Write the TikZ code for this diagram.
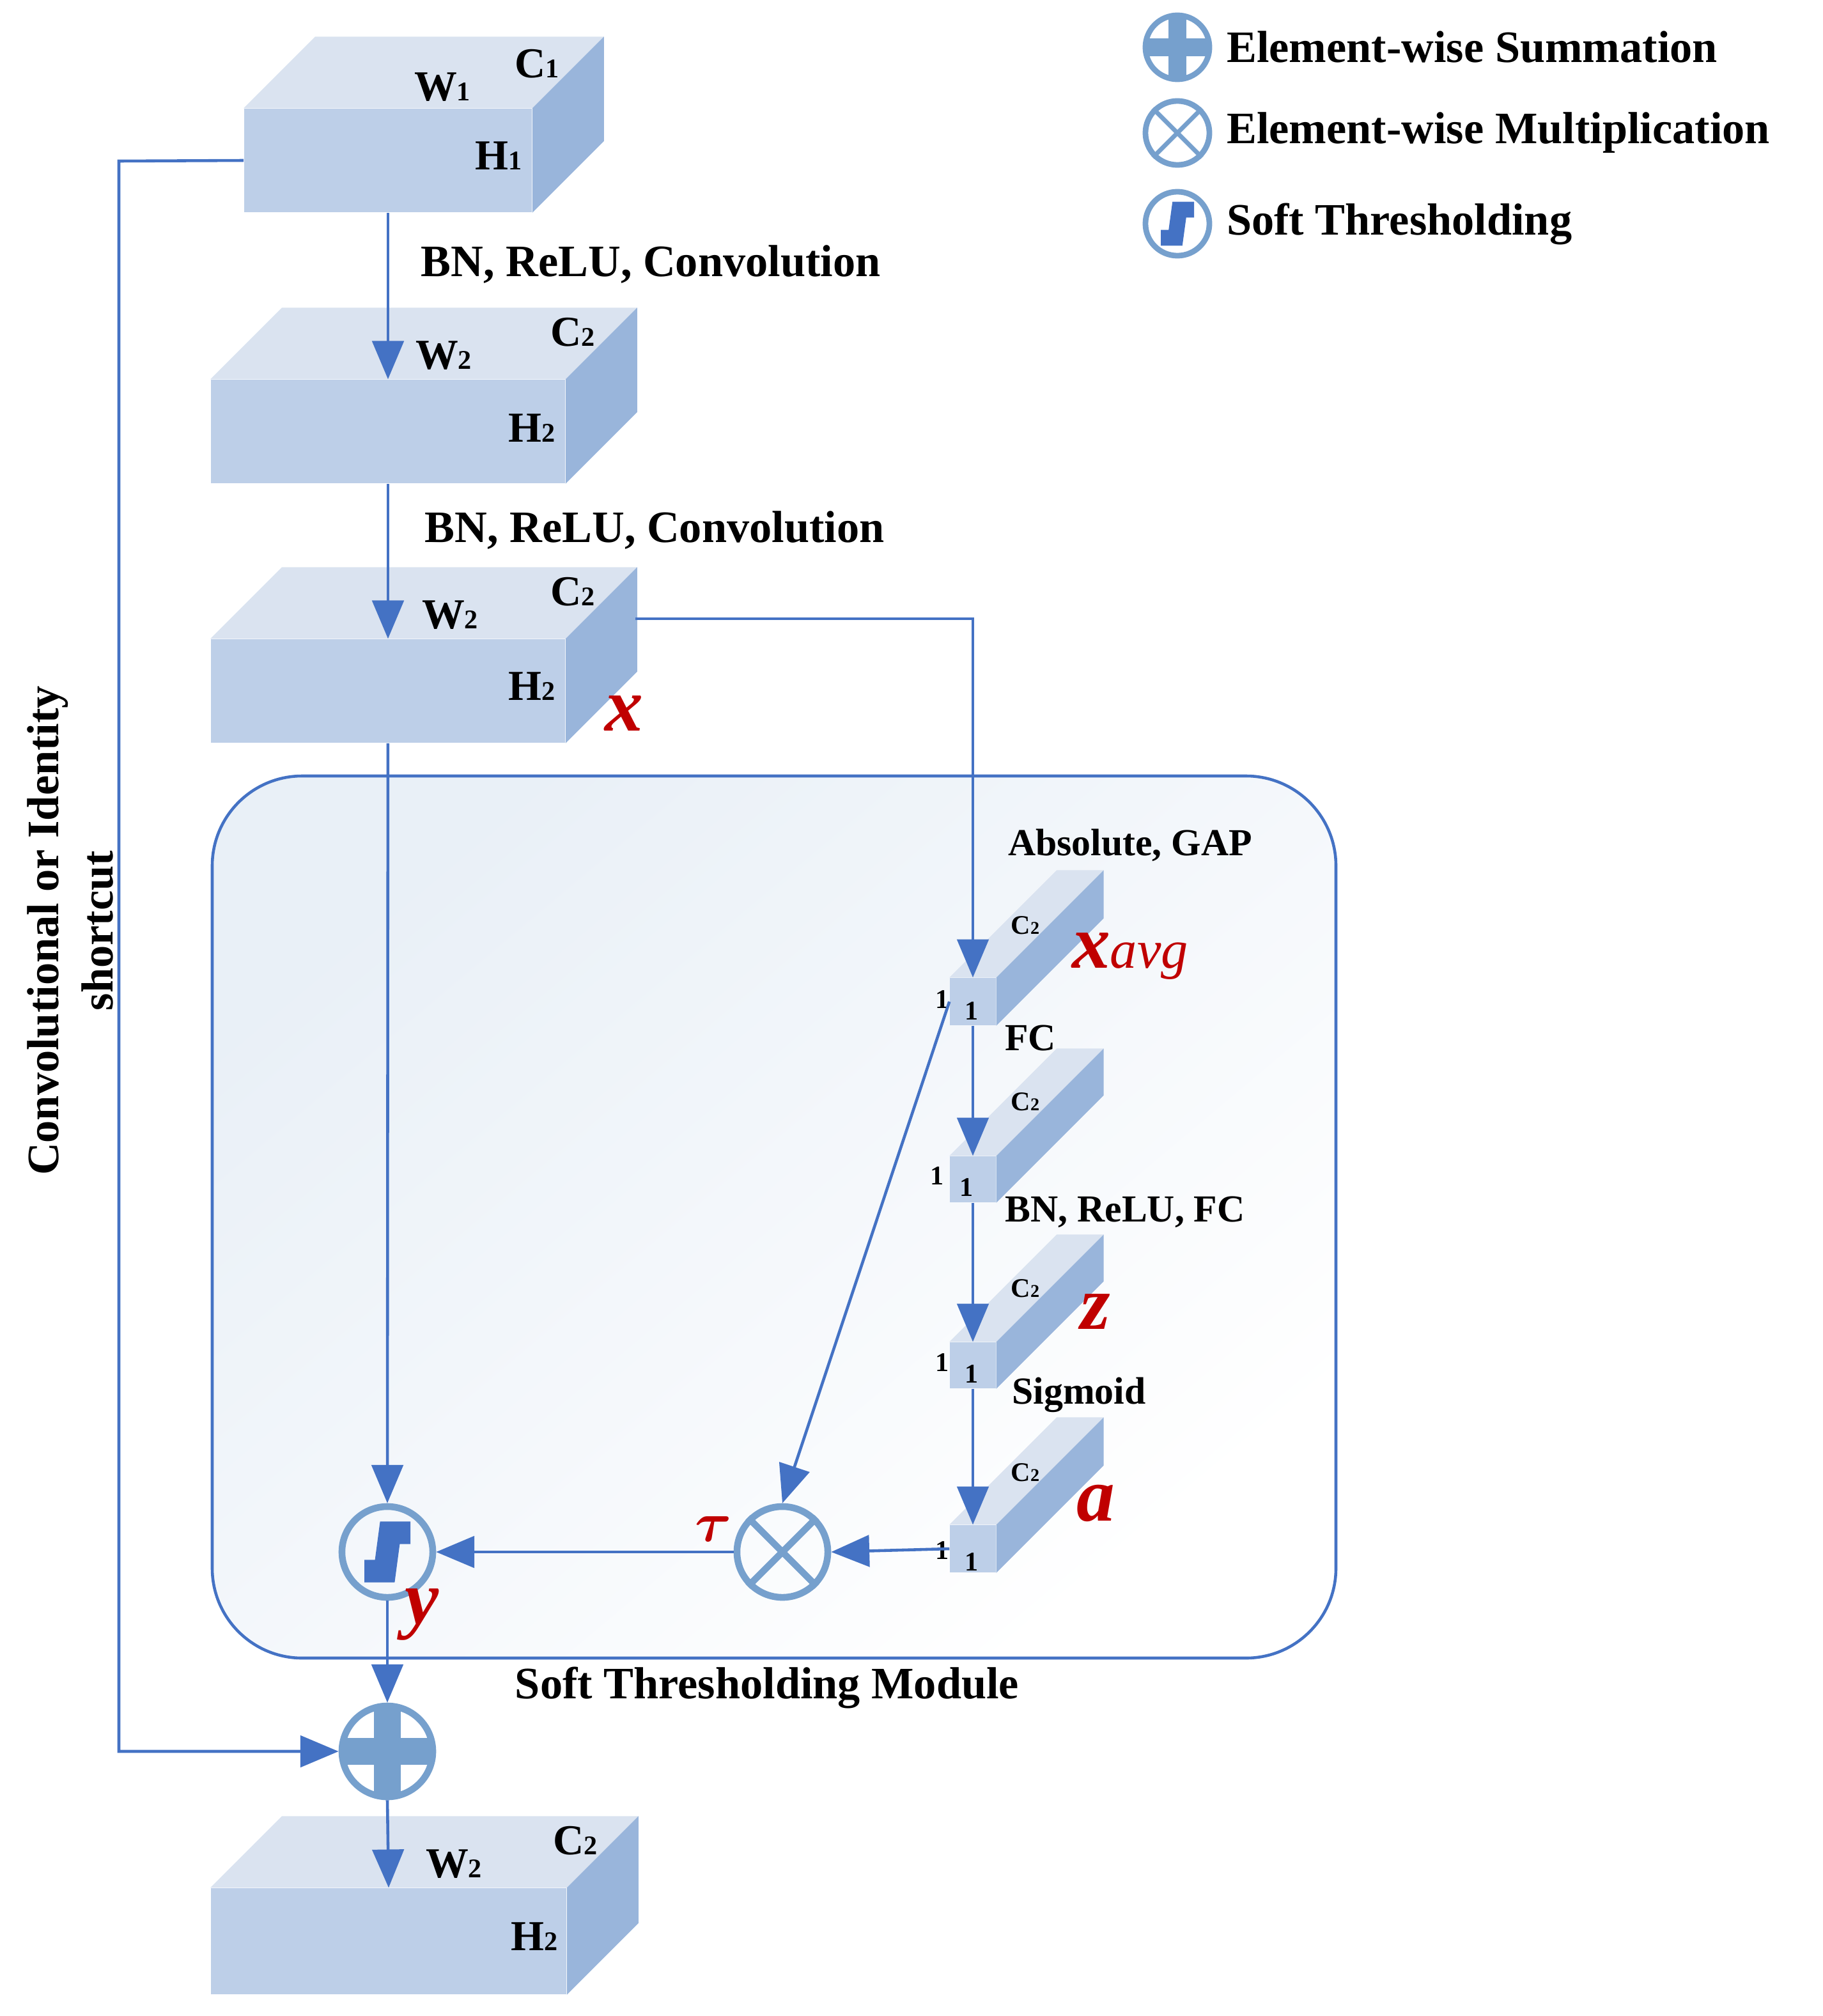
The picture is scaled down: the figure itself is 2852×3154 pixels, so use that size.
\documentclass[tikz,border=0pt]{standalone}
\usepackage{bm}
\usepackage{fontspec}
\setmainfont{Liberation Serif}
\usetikzlibrary{calc,arrows.meta,positioning}
\definecolor{frontcol}{RGB}{189,207,232}
\definecolor{topcol}{RGB}{218,227,240}
\definecolor{sidecol}{RGB}{153,181,219}
\definecolor{arrcol}{RGB}{68,114,196}
\definecolor{opcol}{RGB}{118,160,205}
\definecolor{redcol}{RGB}{192,0,0}
\tikzset{
  front/.style={fill=frontcol,inner sep=0pt},
  flow/.style={draw=arrcol,line width=1.3pt,-{Triangle[length=17pt,width=14pt]}},
  lbl/.style={font=\fontsize{20}{24}\selectfont\bfseries,inner sep=0pt},
  dim/.style={font=\fontsize{19}{22}\selectfont\bfseries,inner sep=0pt},
  sdim/.style={font=\fontsize{12}{14}\selectfont\bfseries,inner sep=0pt},
  var/.style={text=redcol,font=\fontsize{34}{38}\selectfont\bfseries\itshape,inner sep=0pt},
  op/.style={circle,draw=opcol,line width=3pt,minimum size=1.42cm,inner sep=0pt},
  lop/.style={circle,draw=opcol,line width=2.5pt,minimum size=1cm,inner sep=0pt}
}
\newcommand\block[6]{%
  \node[front,minimum width=#4cm,minimum height=#5cm] (#1) at (#2,#3) {};
  \fill[topcol] (#1.north west) -- ++(#6,-#6) -- ($(#1.north east)+(#6,-#6)$) -- (#1.north east) -- cycle;
  \fill[sidecol] (#1.north east) -- ++(#6,-#6) -- ($(#1.south east)+(#6,-#6)$) -- (#1.south east) -- cycle;
}
\newcommand\sub[2]{#1{\fontsize{12}{14}\selectfont #2}}
\begin{document}
\begin{tikzpicture}[x=0.01cm,y=-0.01cm]
\useasboundingbox (0,0) rectangle (2852,3154);

% module box
\shade[shading=axis,top color=opcol!16,bottom color=white,shading angle=40,rounded corners=40pt]
  (332,1214) rectangle (2090,2594);
\draw[draw=arrcol,line width=1.3pt,rounded corners=40pt] (332,1214) rectangle (2090,2594);

% blocks
\block{inp}{607}{251}{4.5}{1.62}{112}
\block{mid}{607}{675}{5.54}{1.62}{112}
\block{xin}{607}{1081}{5.54}{1.62}{112}
\block{out}{608}{3037}{5.56}{1.66}{112}
\block{bavg}{1522}{1567}{0.72}{0.74}{168}
\block{bfc}{1522}{1845}{0.72}{0.72}{168}
\block{bz}{1522}{2136}{0.72}{0.72}{168}
\block{ba}{1522}{2423}{0.72}{0.74}{168}

% operators
\node[op] (st) at (606,2428) {};
\draw[arrcol,line width=10pt] ($(st)+(-36,30)$) -- ($(st)+(-4,30)$) -- ($(st)+(4,-30)$) -- ($(st)+(36,-30)$);
\node[op] (mul) at (1224,2428) {};
\draw[opcol,line width=3pt] (mul.north west) -- (mul.south east) (mul.north east) -- (mul.south west);
\node[op] (sum) at (606,2740) {};
\draw[opcol,line width=12pt] ($(sum.north)+(0,5)$) -- ($(sum.south)+(0,-5)$) ($(sum.west)+(5,0)$) -- ($(sum.east)+(-5,0)$);

% block labels
\node[dim] at (692,136) {\sub{W}{1}};
\node[dim] at (840,100) {\sub{C}{1}};
\node[dim] at (780,244) {\sub{H}{1}};
\node[dim] at (694,556) {\sub{W}{2}};
\node[dim] at (896,520) {\sub{C}{2}};
\node[dim] at (832,670) {\sub{H}{2}};
\node[dim] at (704,962) {\sub{W}{2}};
\node[dim] at (896,926) {\sub{C}{2}};
\node[dim] at (832,1074) {\sub{H}{2}};
\node[dim] at (710,2916) {\sub{W}{2}};
\node[dim] at (900,2880) {\sub{C}{2}};
\node[dim] at (836,3030) {\sub{H}{2}};
\foreach \n/\y in {bavg/1448,bfc/1724,bz/2016,ba/2304}
  \node[sdim] at (1604,\y) {C{\fontsize{8}{9}\selectfont 2}};
\foreach \y/\l/\i in {1564/1474/1520,1840/1466/1512,2132/1474/1520,2426/1474/1520}{
  \node[sdim] at (\l,\y) {1};
  \node[sdim] at (\i,\y+18) {1};
}

% step labels
\node[lbl] at (1018,414) {BN, ReLU, Convolution};
\node[lbl] at (1024,830) {BN, ReLU, Convolution};
\node[lbl,font=\fontsize{17}{20}\selectfont\bfseries] at (1768,1322) {Absolute, GAP};
\node[lbl,font=\fontsize{17}{20}\selectfont\bfseries] at (1612,1624) {FC};
\node[lbl,font=\fontsize{17}{20}\selectfont\bfseries] at (1760,1896) {BN, ReLU, FC};
\node[lbl,font=\fontsize{17}{20}\selectfont\bfseries] at (1688,2182) {Sigmoid};
\node[lbl] at (1200,2640) {Soft Thresholding Module};
\node[lbl,rotate=90,align=center] at (110,1456) {Convolutional or Identity\\shortcut};

% variables
\node[var] at (976,1116) {x};
\node[var] at (1768,1496) {x{\fontsize{24}{26}\selectfont\mdseries avg}};
\node[var] at (1714,2052) {z};
\node[var] at (1714,2352) {a};
\node[var,font=\fontsize{42}{44}\selectfont] at (1116,2392) {$\bm{\tau}$};
\node[var] at (660,2526) {y};

% connectors
\coordinate (xout) at (994,968);
\coordinate (sc) at (186,252);
\draw[flow] (inp) -- (mid.north);
\draw[flow] (mid) -- (xin.north);
\draw[flow] (xin) -- (st.north);
\draw[flow] (xout) -| (bavg.north);
\draw[flow] (bavg) -- (bfc.north);
\draw[flow] (bfc) -- (bz.north);
\draw[flow] (bz) -- (ba.north);
\draw[flow] (bavg.west) -- (mul.north);
\draw[flow] (ba.west) -- (mul.east);
\draw[flow] (mul.west) -- (st.east);
\draw[flow] (st.south) -- (sum.north);
\draw[flow] (sum.south) -- (out.north);
\draw[flow] (inp.west) -- (sc) |- (sum.west);

% legend
\node[lop] (lsum) at (1842,74) {};
\draw[opcol,line width=8pt] ($(lsum.north)+(0,4)$) -- ($(lsum.south)+(0,-4)$) ($(lsum.west)+(4,0)$) -- ($(lsum.east)+(-4,0)$);
\node[lop] (lmul) at (1842,208) {};
\draw[opcol,line width=2pt] (lmul.north west) -- (lmul.south east) (lmul.north east) -- (lmul.south west);
\node[lop] (lst) at (1842,350) {};
\draw[arrcol,line width=7pt] ($(lst)+(-26,22)$) -- ($(lst)+(-3,22)$) -- ($(lst)+(3,-22)$) -- ($(lst)+(26,-22)$);
\node[lbl,anchor=west,right=0.22cm of lsum] {Element-wise Summation};
\node[lbl,anchor=west,right=0.22cm of lmul] {Element-wise Multiplication};
\node[lbl,anchor=west,right=0.22cm of lst] {Soft Thresholding};
\end{tikzpicture}
\end{document}
